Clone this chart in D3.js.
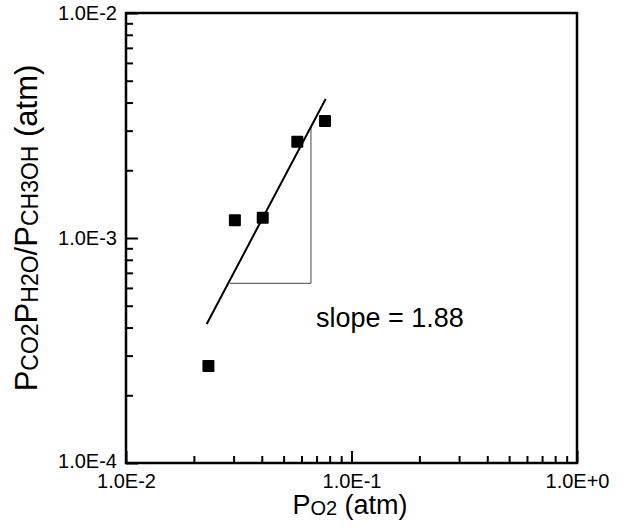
<!DOCTYPE html>
<html><head><meta charset="utf-8">
<script src="https://cdn.jsdelivr.net/npm/d3@7"></script>
<style>body{margin:0;background:#fff}svg{display:block}</style>
</head><body><svg id="c" width="626" height="529"></svg>
<script>
// Data
const po2 = [0.0232, 0.0304, 0.0404, 0.0575, 0.0763];
const ratio = [2.70e-4, 1.20e-3, 1.23e-3, 2.68e-3, 3.31e-3];
const fitX = [0.0228, 0.0768];
const fitY = [4.15e-4, 4.15e-3];
const triX = [0.0289, 0.0661];
const triY = [6.29e-4];
const xTickLabels = ["1.0E-2", "1.0E-1", "1.0E+0"];
const yTickLabels = ["1.0E-4", "1.0E-3", "1.0E-2"];
const slopeText = "slope = 1.88";

const svg = d3.select("#c");
const m = {l:126, r:577, t:13, b:463};
const font = "'Liberation Sans', Arial, sans-serif";
const x = d3.scaleLog().domain([1e-2, 1]).range([m.l, m.r]);
const y = d3.scaleLog().domain([1e-4, 1e-2]).range([m.b, m.t]);

const minorX = [], minorY = [];
[1e-2, 1e-1].forEach(d => { for (let k = 2; k <= 9; k++) minorX.push(d * k); });
[1e-4, 1e-3].forEach(d => { for (let k = 2; k <= 9; k++) minorY.push(d * k); });
const majorX = [1e-2, 1e-1, 1], majorY = [1e-4, 1e-3, 1e-2];

const xAxis = svg.append("g").attr("transform", `translate(0,${m.b})`);
xAxis.call(d3.axisBottom(x).tickValues(minorX).tickSize(-7).tickFormat(""));
const xAxisMaj = svg.append("g").attr("transform", `translate(0,${m.b})`);
xAxisMaj.call(d3.axisBottom(x).tickValues(majorX).tickSize(-12).tickPadding(21)
  .tickFormat((d, i) => xTickLabels[i]));
const yAxis = svg.append("g").attr("transform", `translate(${m.l},0)`);
yAxis.call(d3.axisLeft(y).tickValues(minorY).tickSize(-7).tickFormat(""));
const yAxisMaj = svg.append("g").attr("transform", `translate(${m.l},0)`);
yAxisMaj.call(d3.axisLeft(y).tickValues(majorY).tickSize(-12).tickPadding(22)
  .tickFormat((d, i) => yTickLabels[i]));
svg.selectAll(".domain").remove();
svg.selectAll(".tick line").attr("stroke", "#000").attr("stroke-width", 2);
svg.selectAll("g").attr("font-size", null).attr("font-family", null);
svg.selectAll(".tick text").style("font-family", font).style("font-size", "20px").attr("fill", "#000");
xAxisMaj.selectAll(".tick text").attr("dy", "0.2em");
yAxisMaj.selectAll(".tick text").attr("x", -9);
yAxisMaj.selectAll(".tick text").filter((d, i) => i === 0).attr("dy", "0.2em");

// frame
svg.append("rect").attr("x", m.l).attr("y", m.t).attr("width", m.r - m.l).attr("height", m.b - m.t)
  .attr("fill", "none").attr("stroke", "#000").attr("stroke-width", 2.5);

// slope triangle
const tTopY = Math.pow(10, Math.log10(fitY[0]) + (Math.log10(triX[1]) - Math.log10(fitX[0])) *
  (Math.log10(fitY[1]) - Math.log10(fitY[0])) / (Math.log10(fitX[1]) - Math.log10(fitX[0])));
svg.append("path")
  .attr("d", d3.line()([[x(triX[0]), y(triY[0])], [x(triX[1]), y(triY[0])], [x(triX[1]), y(tTopY)]]))
  .attr("fill", "none").attr("stroke", "#444").attr("stroke-width", 1);

// fit line
svg.append("line").attr("x1", x(fitX[0])).attr("y1", y(fitY[0])).attr("x2", x(fitX[1])).attr("y2", y(fitY[1]))
  .attr("stroke", "#000").attr("stroke-width", 2);

// points
svg.selectAll(".pt").data(po2).enter().append("rect").attr("class", "pt")
  .attr("x", d => x(d) - 6).attr("y", (d, i) => y(ratio[i]) - 6)
  .attr("width", 12).attr("height", 12).attr("rx", 1).attr("fill", "#000");

// slope annotation
svg.append("text").attr("x", 316).attr("y", 327).style("font-family", font).style("font-size", "27px")
  .attr("fill", "#000").text(slopeText);

// x title
const xt = svg.append("text").attr("x", 350).attr("y", 514).attr("text-anchor", "middle")
  .style("font-family", font).style("font-size", "27px").attr("fill", "#000");
xt.append("tspan").text("P");
xt.append("tspan").style("font-size", "20px").attr("dy", 1).text("O2");
xt.append("tspan").attr("dy", -1).text(" (atm)");

// y title
const yt = svg.append("text").attr("transform", "translate(37,228) rotate(-90)").attr("text-anchor", "middle")
  .style("font-family", font).style("font-size", "31px").attr("fill", "#000");
const parts = [["P", 0], ["CO2", 1], ["P", 0], ["H2O", 1], ["/P", 0], ["CH3OH", 1], [" (atm)", 0]];
let prev = 0;
parts.forEach(([t, s]) => {
  const off = s ? 1 : 0;
  const ts = yt.append("tspan").attr("dy", off - prev).text(t);
  prev = off;
  if (s) ts.style("font-size", "23px");
});
</script></body></html>
